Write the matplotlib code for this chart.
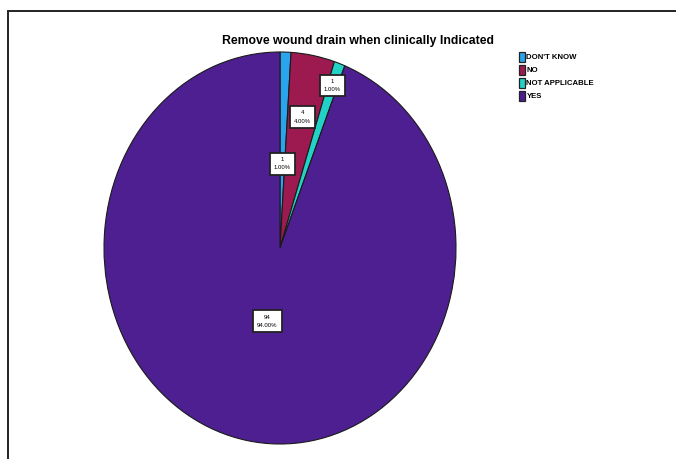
import matplotlib.pyplot as plt
import numpy as np
from matplotlib.patches import Rectangle, Patch

categories = ["DON'T KNOW", "NO", "NOT APPLICABLE", "YES"]
counts = [1, 4, 1, 94]
colors = ['#2aa4ec', '#9c1a50', '#22d2c6', '#4d1f91']
label_radius = [0.43, 0.68, 0.88, 0.38]

plt.rcParams['font.family'] = ['Liberation Sans', 'DejaVu Sans']

fig = plt.figure(figsize=(6.76, 4.59), dpi=100)

# frame around the chart (only top and left show in the crop)
fig.patches.append(Rectangle((8/676, -0.1), 1.2, 0.1 + (459-11)/459,
                             transform=fig.transFigure, fill=False,
                             edgecolor='#222222', linewidth=1.4))

ax = fig.add_axes([104/676, 15/459, 352/676, 392/459])
wedges, _ = ax.pie(counts, colors=colors, startangle=90, counterclock=False,
                   wedgeprops=dict(edgecolor='#1a1a1a', linewidth=0.8))
ax.set_aspect('auto')
ax.set_xlim(-1, 1)
ax.set_ylim(-1, 1)

total = sum(counts)
for w, c, r in zip(wedges, counts, label_radius):
    ang = np.deg2rad((w.theta1 + w.theta2) / 2)
    ax.text(r*np.cos(ang), r*np.sin(ang), f"{c}\n{c/total*100:.2f}%",
            ha='center', va='center', fontsize=4.3, linespacing=1.8,
            bbox=dict(boxstyle='square,pad=0.7', facecolor='white',
                      edgecolor='#222222', linewidth=1.3))

fig.text(358/676, 1 - 41/459, "Remove wound drain when clinically Indicated",
         ha='center', va='center', fontsize=8.8, fontweight='bold')

handles = [Patch(facecolor=col, edgecolor='#222222', linewidth=0.9) for col in colors]
fig.legend(handles, categories, loc='upper left', bbox_to_anchor=(516/676, 1 - 49/459),
           frameon=False, prop=dict(size=5.6, weight='bold'), handlelength=0.8,
           handleheight=1.5, handletextpad=0.15, labelspacing=0.45, borderaxespad=0)

fig.savefig('out.png', dpi=100)
